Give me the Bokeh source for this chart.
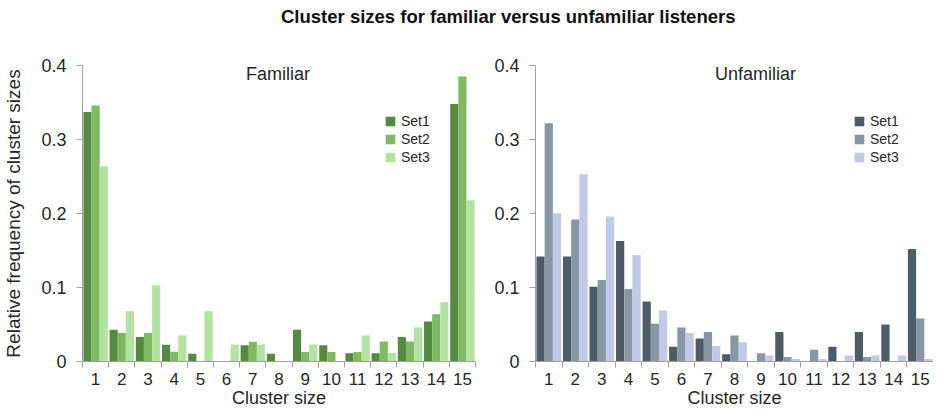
from bokeh.plotting import figure
from bokeh.models import FixedTicker, Range1d, Label, Legend, LegendItem, Div, ColumnDataSource
from bokeh.transform import dodge
from bokeh.layouts import column, row
from bokeh.embed import file_html
from bokeh.resources import INLINE

clusters = list(range(1, 16))
tick_labels = [str(c) for c in clusters]

fam_set1 = [0.337, 0.043, 0.033, 0.0226, 0.0106, 0.0, 0.022, 0.0106, 0.043, 0.022, 0.011, 0.011, 0.033, 0.054, 0.348]
fam_set2 = [0.346, 0.0386, 0.0386, 0.0133, 0.0, 0.0, 0.0266, 0.0, 0.013, 0.013, 0.013, 0.027, 0.027, 0.064, 0.385]
fam_set3 = [0.264, 0.068, 0.103, 0.035, 0.068, 0.023, 0.023, 0.0, 0.023, 0.0, 0.035, 0.0115, 0.046, 0.080, 0.218]

unf_set1 = [0.142, 0.142, 0.101, 0.163, 0.081, 0.020, 0.031, 0.0098, 0.0, 0.040, 0.0, 0.020, 0.040, 0.050, 0.152]
unf_set2 = [0.322, 0.192, 0.110, 0.098, 0.051, 0.046, 0.040, 0.035, 0.011, 0.006, 0.016, 0.0, 0.006, 0.0, 0.058]
unf_set3 = [0.200, 0.253, 0.196, 0.144, 0.069, 0.0386, 0.021, 0.026, 0.008, 0.0035, 0.0035, 0.008, 0.008, 0.008, 0.0035]

series_names = ["Set1", "Set2", "Set3"]
fam_colors = ["#558b40", "#7dba62", "#b3e3a1"]
unf_colors = ["#4d5d68", "#8797a6", "#c0cae7"]

FONT = "Liberation Sans"
TXT = "#262626"
AX = "#a0a0a0"


def make_panel(vals, colors, name, name_x, legend_loc, ylabel, left_border, right_border, width):
    src = ColumnDataSource(dict(x=clusters, s1=vals[0], s2=vals[1], s3=vals[2]))
    p = figure(width=width, height=375, x_range=Range1d(0.5, 15.5), y_range=Range1d(0, 0.4),
               output_backend="svg", toolbar_location=None,
               min_border_left=left_border, min_border_right=right_border,
               min_border_top=27, min_border_bottom=52)
    p.outline_line_color = None
    p.xgrid.grid_line_color = None
    p.ygrid.grid_line_color = None
    w = 0.31
    renderers = []
    for i, (col, c) in enumerate(zip(["s1", "s2", "s3"], colors)):
        r = p.vbar(x=dodge("x", (i - 1) * w, range=p.x_range), top=col, width=w, source=src,
                   fill_color=c, line_color=None)
        renderers.append(r)
    legend = Legend(items=[LegendItem(label=n, renderers=[r]) for n, r in zip(series_names, renderers)],
                    location=legend_loc, padding=0, margin=0, spacing=2,
                    glyph_width=12, glyph_height=12, label_height=12, label_standoff=5,
                    label_text_font=FONT, label_text_font_size="14px", label_text_color=TXT,
                    border_line_color=None, background_fill_alpha=0)
    p.add_layout(legend)

    xa = p.xaxis[0]
    xa.ticker = FixedTicker(ticks=clusters, minor_ticks=[c - 0.5 for c in clusters] + [15.5])
    xa.major_label_overrides = {c: l for c, l in zip(clusters, tick_labels)}
    xa.major_tick_out = 0
    xa.major_tick_in = 0
    xa.minor_tick_out = 6
    xa.minor_tick_in = 0
    xa.minor_tick_line_color = AX
    xa.axis_line_color = AX
    xa.major_label_text_font = FONT
    xa.major_label_text_font_size = "17px"
    xa.major_label_text_color = TXT
    xa.major_label_standoff = 5
    xa.axis_label = "Cluster size"
    xa.axis_label_text_font = FONT
    xa.axis_label_text_font_size = "18px"
    xa.axis_label_text_font_style = "normal"
    xa.axis_label_text_color = TXT
    xa.axis_label_standoff = 0

    ya = p.yaxis[0]
    ya.ticker = FixedTicker(ticks=[0, 0.1, 0.2, 0.3, 0.4], minor_ticks=[])
    ya.major_label_overrides = {0: "0", 0.1: "0.1", 0.2: "0.2", 0.3: "0.3", 0.4: "0.4"}
    ya.major_tick_out = 6
    ya.major_tick_in = 0
    ya.major_tick_line_color = AX
    ya.axis_line_color = AX
    ya.major_label_text_font = FONT
    ya.major_label_text_font_size = "18px"
    ya.major_label_text_color = TXT
    ya.major_label_standoff = 10
    if ylabel:
        ya.axis_label = ylabel
        ya.axis_label_text_font = FONT
        ya.axis_label_text_font_size = "19px"
        ya.axis_label_text_font_style = "normal"
        ya.axis_label_text_color = TXT
        ya.axis_label_standoff = 14

    p.add_layout(Label(x=name_x, y=0.388, text=name, text_align="center", text_baseline="middle",
                       text_font=FONT, text_font_size="18px", text_color=TXT))
    return p


p1 = make_panel([fam_set1, fam_set2, fam_set3], fam_colors, "Familiar", 7.96, (302, 196),
                "Relative frequency of cluster sizes", 77, 5, 480)
p2 = make_panel([unf_set1, unf_set2, unf_set3], unf_colors, "Unfamiliar", 8.79, (318, 196),
                None, 55, 0, 453)

title = Div(text='<div style="padding-top:2px; padding-left:276px; line-height:20px; '
                 'font-family:\'Liberation Sans\', sans-serif; font-weight:bold; font-size:18.5px; '
                 'color:#111111; white-space:nowrap;">'
                 'Cluster sizes for familiar versus unfamiliar listeners</div>',
            width=933, height=28)

layout = column(title, row(p1, p2))
open("out.html", "w").write(file_html(layout, INLINE))
